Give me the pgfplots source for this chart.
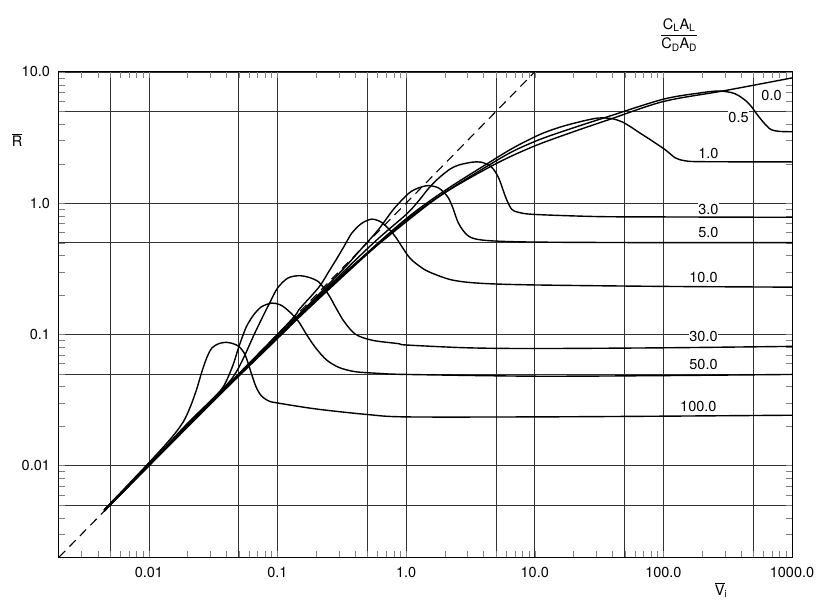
\documentclass[border=0pt]{standalone}
\usepackage{pgfplots}
\pgfplotsset{compat=1.18}
\usepackage{fontspec}
\setmainfont{TeX Gyre Heros}
\begin{document}
\fontsize{14.5}{17}\selectfont
\begin{tikzpicture}
\begin{loglogaxis}[
  scale only axis, width=734pt, height=486pt,
  xmin=0.002, xmax=1000, ymin=0.002, ymax=10,
  xtick={0.005,0.01,0.05,0.1,0.5,1,5,10,50,100,500,1000},
  xticklabels={,0.01,,0.1,,1.0,,10.0,,100.0,,1000.0},
  ytick={0.005,0.01,0.05,0.1,0.5,1,5,10},
  yticklabels={,0.01,,0.1,,1.0,,10.0},
  minor xtick={0.003,0.004,0.006,0.007,0.008,0.009,0.02,0.03,0.04,0.06,0.07,0.08,0.09,0.2,0.3,0.4,0.6,0.7,0.8,0.9,2,3,4,6,7,8,9,20,30,40,60,70,80,90,200,300,400,600,700,800,900},
  minor ytick={0.003,0.004,0.006,0.007,0.008,0.009,0.02,0.03,0.04,0.06,0.07,0.08,0.09,0.2,0.3,0.4,0.6,0.7,0.8,0.9,2,3,4,6,7,8,9},
  xmajorgrids=true, ymajorgrids=true,
  major grid style={black!80, line width=0.6pt},
  major tick length=6pt,
  minor tick length=6pt,
  tick align=inside,
  axis line style={black, line width=1pt},
  ticklabel style={font=\fontsize{14.5}{17}\selectfont},
  xticklabel style={yshift=-5pt},
  yticklabel style={xshift=-4pt},
]
\tikzset{crv/.style={black, line width=1.4pt, smooth, tension=0.5, mark=none}}
% dashed 1:1 line
\addplot[black, line width=1.1pt, dash pattern=on 9pt off 6pt, mark=none] coordinates {(0.002,0.002) (10,10)};
% 0.0
\addplot[crv] coordinates {
(0.0045,0.0045)(0.01,0.01)(0.03,0.0295)(0.1,0.093)(0.3,0.27)(1,0.72)(2,1.2)(5,2.0)(10,2.73)(20,3.5)(37,4.3)(100,5.95)(300,7.2)(1000,9.0)};
% 0.5
\addplot[crv] coordinates {
(0.0045,0.0045)(0.01,0.01)(0.1,0.094)(1,0.74)(5,2.1)(10,2.95)(20,3.75)(37,4.56)(100,6.2)(200,6.95)(269,7.15)(339,6.95)(384,6.6)(440,6.0)(484,5.43)(530,4.8)(579,4.3)(640,3.85)(693,3.62)(800,3.52)(1000,3.5)};
% 1.0
\addplot[crv] coordinates {
(0.0045,0.0045)(0.1,0.095)(1,0.76)(5,2.2)(10,3.2)(15,3.74)(22,4.15)(31,4.45)(40,4.4)(48,4.15)(56,3.8)(68,3.35)(81,3.0)(104,2.54)(124,2.21)(148,2.1)(200,2.07)(1000,2.06)};
% 3.0
\addplot[crv] coordinates {
(0.0045,0.0046)(0.1,0.096)(0.5,0.45)(1,0.82)(1.26,1.05)(1.5,1.3)(1.79,1.55)(2.2,1.82)(2.56,1.95)(3.24,2.05)(3.86,2.05)(4.62,1.88)(5.25,1.55)(5.94,1.11)(6.6,0.9)(7.5,0.85)(10,0.82)(31,0.79)(100,0.785)(1000,0.78)};
% 5.0
\addplot[crv] coordinates {
(0.0045,0.0046)(0.1,0.097)(0.3,0.29)(0.45,0.45)(0.61,0.63)(0.8,0.9)(1.05,1.19)(1.26,1.31)(1.5,1.36)(1.8,1.3)(2.1,1.12)(2.3,0.93)(2.56,0.70)(3.06,0.56)(4.15,0.52)(10,0.505)(100,0.5)(1000,0.5)};
% 10.0
\addplot[crv] coordinates {
(0.0045,0.0046)(0.1,0.1)(0.15,0.158)(0.21,0.229)(0.25,0.3)(0.284,0.367)(0.33,0.47)(0.378,0.59)(0.45,0.70)(0.54,0.755)(0.635,0.72)(0.73,0.64)(0.83,0.55)(1.05,0.39)(1.25,0.335)(1.5,0.3)(2.26,0.26)(3.8,0.245)(10,0.238)(100,0.232)(1000,0.229)};
% 30.0
\addplot[crv] coordinates {
(0.0045,0.0046)(0.01,0.0102)(0.02,0.0205)(0.04,0.041)(0.048,0.052)(0.056,0.07)(0.065,0.097)(0.075,0.13)(0.086,0.17)(0.1,0.225)(0.12,0.268)(0.146,0.28)(0.175,0.272)(0.21,0.25)(0.25,0.2)(0.284,0.16)(0.33,0.125)(0.405,0.1)(0.55,0.09)(0.87,0.085)(1,0.083)(3,0.079)(10,0.078)(100,0.079)(1000,0.081)};
% 50.0
\addplot[crv] coordinates {
(0.0045,0.0046)(0.01,0.0102)(0.02,0.021)(0.03,0.031)(0.038,0.04)(0.045,0.058)(0.05,0.08)(0.057,0.113)(0.065,0.14)(0.075,0.162)(0.09,0.173)(0.105,0.168)(0.122,0.151)(0.146,0.125)(0.17,0.098)(0.2,0.078)(0.24,0.064)(0.3,0.056)(0.4,0.052)(0.6,0.0505)(1,0.0495)(10,0.048)(100,0.0485)(1000,0.0495)};
% 100.0
\addplot[crv] coordinates {
(0.0045,0.0046)(0.01,0.0105)(0.015,0.0163)(0.0185,0.0215)(0.021,0.028)(0.0235,0.038)(0.026,0.053)(0.0285,0.068)(0.031,0.079)(0.035,0.085)(0.04,0.087)(0.045,0.085)(0.05,0.081)(0.056,0.07)(0.062,0.052)(0.068,0.04)(0.075,0.034)(0.086,0.031)(0.1,0.030)(0.2,0.027)(0.5,0.0245)(1,0.0235)(10,0.0235)(100,0.0238)(1000,0.0242)};
% curve labels
\tikzset{lab/.style={fill=white, inner sep=0.5pt, font=\fontsize{14.5}{17}\selectfont}}
\node[lab] at (axis cs:693,6.67) {0.0};
\node[lab] at (axis cs:384,4.53) {0.5};
\node[lab] at (axis cs:224,2.41) {1.0};
\node[lab] at (axis cs:224,0.90) {3.0};
\node[lab] at (axis cs:224,0.60) {5.0};
\node[lab] at (axis cs:205,0.272) {10.0};
\node[lab] at (axis cs:205,0.0966) {30.0};
\node[lab] at (axis cs:205,0.059) {50.0};
\node[lab] at (axis cs:187,0.0282) {100.0};
\end{loglogaxis}
% axis titles and frame of the page
\node at (-42pt,418pt) {$\overline{\hbox{R}}$};
\node at (663pt,-33pt) {$\overline{\hbox{V}}_{\hbox{\fontsize{10}{12}\selectfont i}}$};
\node at (621pt,523pt) {${\displaystyle\frac{\hbox{C\textsubscript{L}A\textsubscript{L}}}{\hbox{C\textsubscript{D}A\textsubscript{D}}}}$};
\path (-59pt,-43pt) rectangle (760pt,558pt);
\end{tikzpicture}
\end{document}
